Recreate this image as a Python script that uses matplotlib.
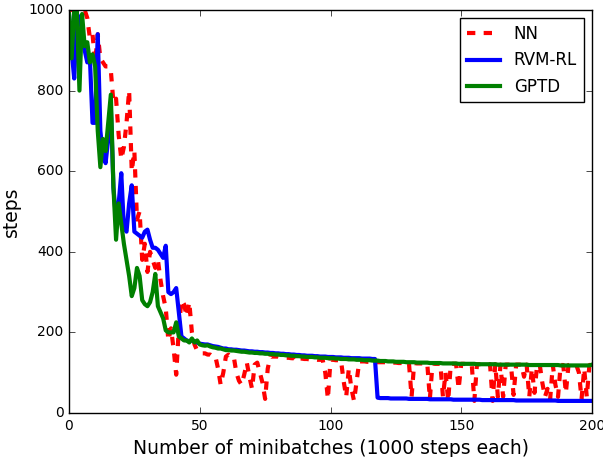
"""
Steps per episode vs minibatches for NN, RVM-RL and GPTD
"""
import numpy as np
import matplotlib
matplotlib.use("Agg")
import matplotlib.pyplot as plt

plt.style.use("classic")

# values, one per minibatch (0..200)
nn_steps = [
    1000, 1000, 1000, 1000, 1000, 1000, 1000, 980, 930, 940, 870,
    940, 880, 870, 860, 860, 850, 770, 780, 690, 630,
    660, 720, 800, 600, 650, 480, 500, 380, 420, 350,
    400, 380, 360, 380, 330, 290, 260, 180, 210, 160,
    95, 210, 280, 270, 240, 275, 200, 170, 155, 150,
    148, 148, 145, 145, 140, 140, 110, 70, 100, 140,
    145, 140, 140, 100, 80, 70, 95, 125, 90, 60,
    120, 125, 100, 75, 35, 110, 140, 140, 140, 140,
    138, 138, 137, 137, 136, 136, 128, 135, 135, 134,
    134, 133, 133, 133, 132, 132, 132, 100, 35, 132,
    132, 131, 131, 131, 80, 40, 110, 60, 30, 80,
    128, 128, 128, 127, 127, 127, 127, 126, 126, 126,
    126, 125, 125, 125, 125, 124, 124, 124, 124, 124,
    40, 124, 123, 123, 123, 123, 123, 35, 123, 122,
    122, 122, 40, 100, 30, 122, 122, 122, 60, 122,
    122, 121, 121, 121, 30, 121, 121, 121, 121, 121,
    121, 30, 121, 40, 120, 40, 120, 120, 120, 45,
    120, 120, 120, 90, 120, 40, 110, 50, 120, 120,
    75, 40, 60, 35, 119, 70, 40, 119, 119, 50,
    119, 119, 119, 119, 100, 35, 110, 40, 119, 120,
]

rvm_steps = [
    990, 900, 830, 990, 980, 950, 900, 870, 880, 720, 720,
    940, 700, 640, 620, 680, 760, 560, 480, 520, 595,
    460, 450, 520, 565, 450, 445, 440, 435, 450, 455,
    430, 410, 410, 405, 395, 385, 415, 300, 295, 300,
    310, 250, 190, 185, 180, 178, 180, 178, 175, 172,
    171, 170, 170, 168, 166, 165, 164, 162, 160, 160,
    158, 158, 157, 157, 156, 155, 155, 154, 153, 153,
    152, 152, 151, 151, 150, 150, 149, 149, 148, 148,
    147, 147, 146, 146, 145, 145, 144, 144, 143, 143,
    142, 142, 142, 141, 141, 140, 140, 140, 139, 139,
    139, 138, 138, 138, 137, 137, 137, 136, 136, 136,
    136, 135, 135, 135, 135, 134, 134, 38, 37, 37,
    37, 37, 36, 36, 36, 36, 36, 36, 36, 35,
    35, 35, 35, 35, 35, 35, 35, 34, 34, 34,
    34, 34, 34, 34, 34, 34, 33, 33, 33, 33,
    33, 33, 33, 33, 33, 33, 33, 32, 32, 32,
    32, 32, 32, 32, 32, 32, 32, 32, 32, 32,
    31, 31, 31, 31, 31, 31, 31, 31, 31, 31,
    31, 31, 31, 31, 31, 31, 30, 30, 30, 30,
    30, 30, 30, 30, 30, 30, 30, 30, 30, 30,
]

gptd_steps = [
    990, 880, 1000, 1000, 800, 990, 910, 920, 870, 890, 860,
    700, 610, 680, 650, 720, 790, 560, 430, 520, 470,
    420, 380, 340, 290, 310, 360, 340, 280, 270, 265,
    275, 300, 345, 265, 250, 235, 205, 200, 200, 200,
    225, 190, 185, 180, 180, 175, 185, 175, 180, 170,
    168, 167, 168, 165, 163, 162, 160, 160, 158, 156,
    156, 155, 155, 154, 153, 152, 152, 151, 150, 150,
    149, 149, 148, 148, 147, 147, 146, 146, 145, 145,
    144, 144, 143, 143, 142, 142, 141, 141, 140, 140,
    139, 139, 139, 138, 138, 137, 137, 137, 136, 136,
    136, 135, 135, 134, 134, 134, 133, 133, 133, 132,
    132, 132, 131, 131, 131, 130, 130, 130, 129, 129,
    129, 128, 128, 128, 127, 127, 127, 127, 126, 126,
    126, 126, 125, 125, 125, 125, 125, 124, 124, 124,
    124, 124, 123, 123, 123, 123, 123, 123, 122, 122,
    122, 122, 122, 122, 122, 121, 121, 121, 121, 121,
    121, 121, 121, 120, 120, 120, 120, 120, 120, 120,
    120, 120, 120, 120, 120, 119, 119, 119, 119, 119,
    119, 119, 119, 119, 119, 119, 119, 118, 118, 118,
    118, 118, 118, 118, 118, 118, 118, 118, 118, 120,
]

minibatch = np.arange(len(gptd_steps))

fig = plt.figure(figsize=(6.03, 4.57), dpi=100, facecolor="white")
ax = fig.add_axes([0.1144, 0.0963, 0.8674, 0.8818])

ax.plot(minibatch, nn_steps, "r--", lw=3, label="NN")
ax.plot(minibatch, rvm_steps, "b-", lw=3, label="RVM-RL")
ax.plot(minibatch, gptd_steps, "g-", lw=3, label="GPTD")

ax.set_xlim(0, 200)
ax.set_ylim(0, 1000)
ax.set_xticks([0, 50, 100, 150, 200])
ax.set_yticks([0, 200, 400, 600, 800, 1000])
ax.tick_params(labelsize=10)
ax.set_xlabel("Number of minibatches (1000 steps each)", fontsize=13.5)
ax.set_ylabel("steps", fontsize=13.5)
ax.legend(loc="upper right", fontsize=12, numpoints=1)

fig.savefig("out.png", dpi=100, facecolor="white")
